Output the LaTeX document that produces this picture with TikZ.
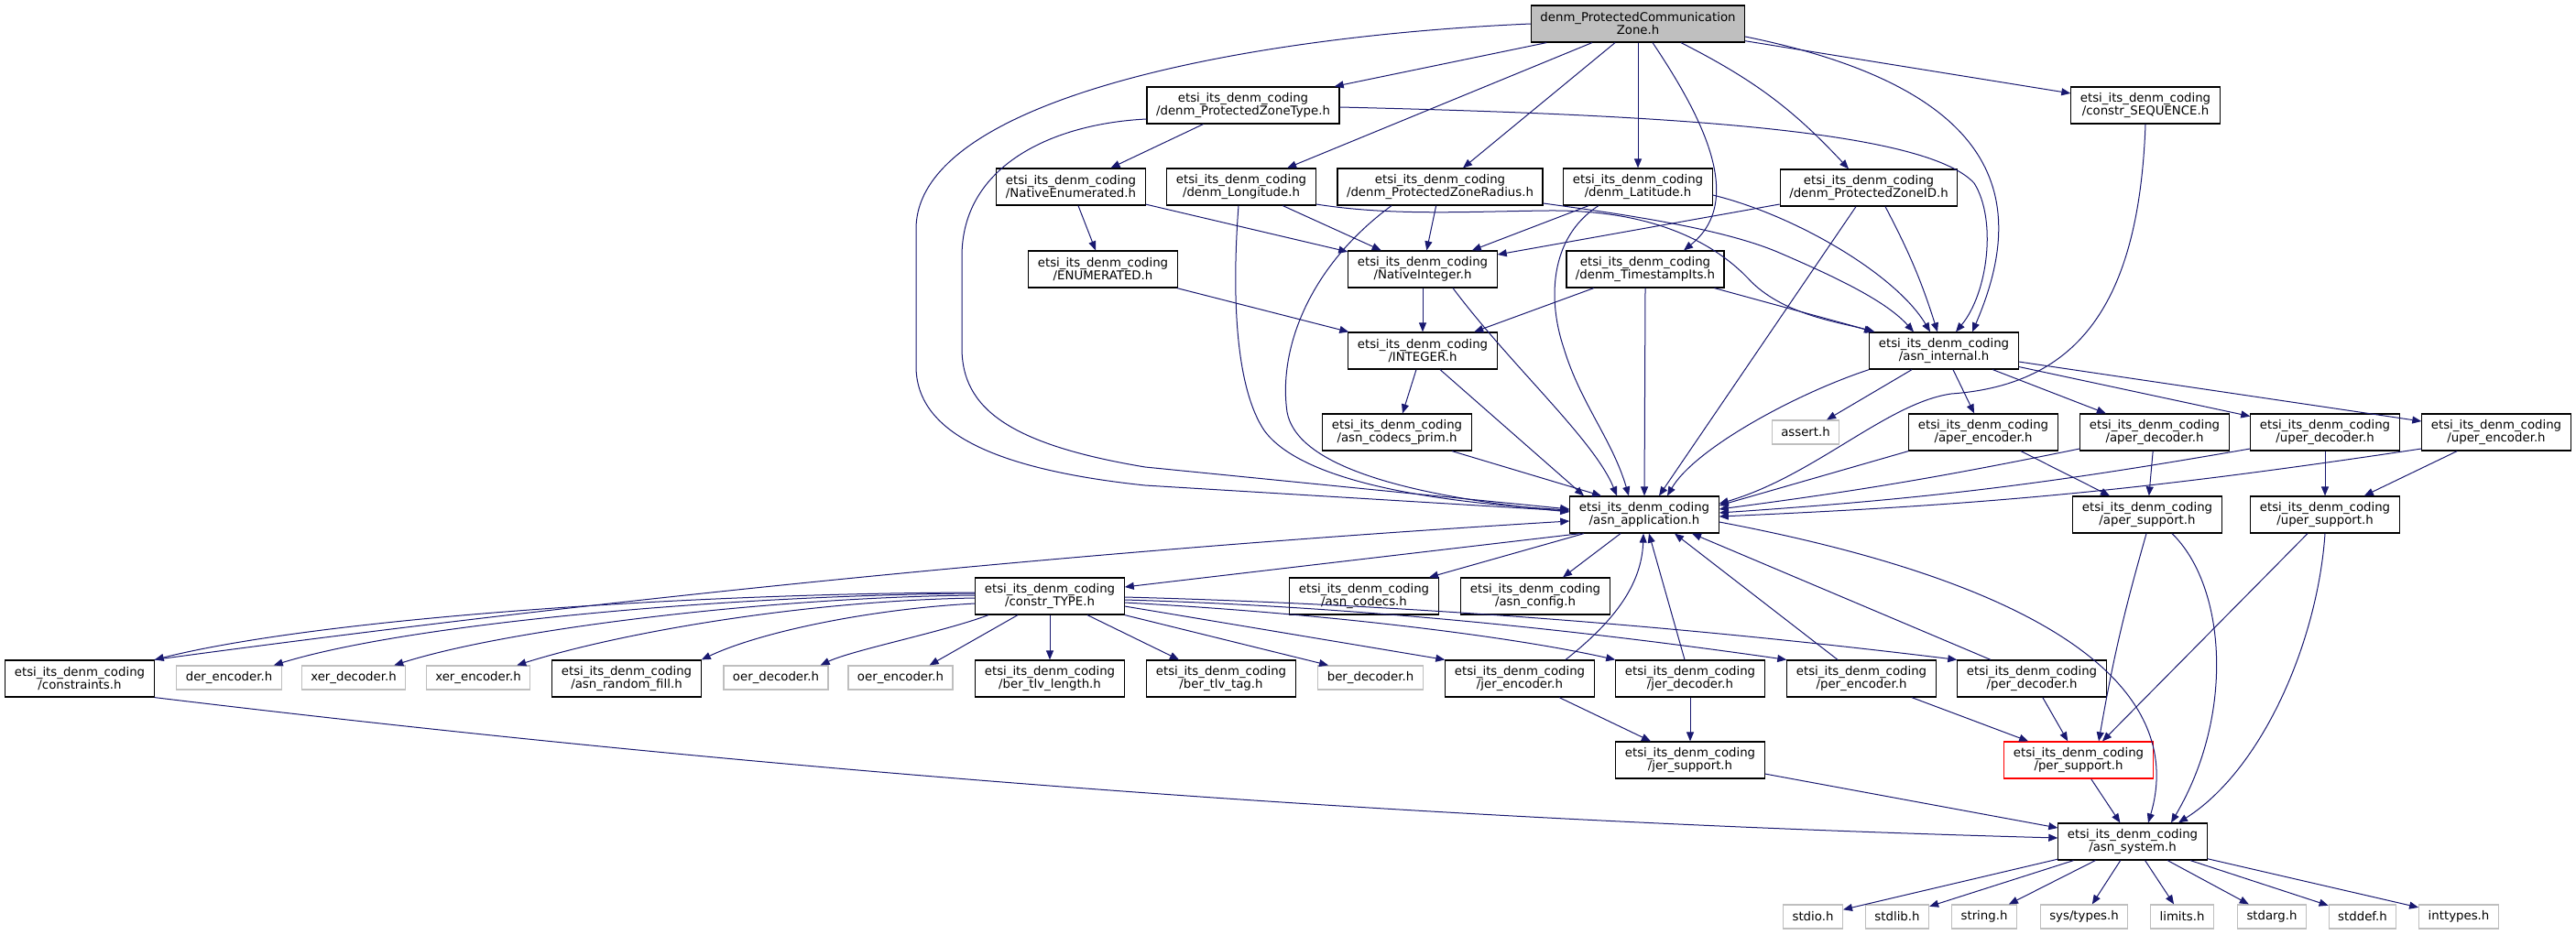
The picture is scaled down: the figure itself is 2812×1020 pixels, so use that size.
\documentclass[tikz,border=0pt]{standalone}
\usepackage{fontspec}
\setmainfont{DejaVu Sans}
\usetikzlibrary{arrows.meta}
\definecolor{edgeblue}{HTML}{191970}
\definecolor{sysgray}{HTML}{BFBFBF}
\newcommand{\pkgdir}{etsi\_its\_denm\_coding}
\tikzstyle{hd}=[draw=black,fill=white,line width=1.2pt,align=center,inner xsep=10pt,inner ysep=3pt,minimum height=40pt,font=\fontsize{13.3}{14}\selectfont]
\tikzstyle{sys}=[hd,draw=sysgray,minimum height=26pt]
\tikzstyle{rootnd}=[hd,fill=sysgray]
\tikzstyle{redhd}=[hd,draw=red]
\tikzstyle{ed}=[draw=edgeblue,line width=1pt,-{Triangle[length=10pt,width=8pt]}]

\begin{document}
\begin{tikzpicture}[x=1pt,y=-1pt]
	\useasboundingbox (0,0) rectangle (2812,1020);
	\node[rootnd] (pcz) at (1788,26) {denm\_ProtectedCommunication\\Zone.h};
	\node[hd] (pzt) at (1357,115) {\pkgdir\\/denm\_ProtectedZoneType.h};
	\node[hd] (cseq) at (2342,115) {\pkgdir\\/constr\_SEQUENCE.h};
	\node[hd] (natenum) at (1169,204) {\pkgdir\\/NativeEnumerated.h};
	\node[hd] (lon) at (1355,204) {\pkgdir\\/denm\_Longitude.h};
	\node[hd] (rad) at (1572,204) {\pkgdir\\/denm\_ProtectedZoneRadius.h};
	\node[hd] (lat) at (1788,204) {\pkgdir\\/denm\_Latitude.h};
	\node[hd] (pzid) at (2040,205) {\pkgdir\\/denm\_ProtectedZoneID.h};
	\node[hd] (enumd) at (1204,294) {\pkgdir\\/ENUMERATED.h};
	\node[hd] (natint) at (1553,294) {\pkgdir\\/NativeInteger.h};
	\node[hd] (tsits) at (1796,294) {\pkgdir\\/denm\_TimestampIts.h};
	\node[hd] (integer) at (1553,383) {\pkgdir\\/INTEGER.h};
	\node[hd] (asnint) at (2122,383) {\pkgdir\\/asn\_internal.h};
	\node[hd] (prim) at (1525,472) {\pkgdir\\/asn\_codecs\_prim.h};
	\node[sys] (assert) at (1971,472) {assert.h};
	\node[hd] (aperenc) at (2165,472) {\pkgdir\\/aper\_encoder.h};
	\node[hd] (aperdec) at (2352,472) {\pkgdir\\/aper\_decoder.h};
	\node[hd] (uperdec) at (2538,472) {\pkgdir\\/uper\_decoder.h};
	\node[hd] (uperenc) at (2725,472) {\pkgdir\\/uper\_encoder.h};
	\node[hd] (asnapp) at (1795,562) {\pkgdir\\/asn\_application.h};
	\node[hd] (apersup) at (2344,562) {\pkgdir\\/aper\_support.h};
	\node[hd] (upersup) at (2538,562) {\pkgdir\\/uper\_support.h};
	\node[hd] (ctype) at (1146,651) {\pkgdir\\/constr\_TYPE.h};
	\node[hd] (codecs) at (1489,651) {\pkgdir\\/asn\_codecs.h};
	\node[hd] (config) at (1676,651) {\pkgdir\\/asn\_config.h};
	\node[hd] (cons) at (87,741) {\pkgdir\\/constraints.h};
	\node[sys] (derenc) at (250,740) {der\_encoder.h};
	\node[sys] (xerdec) at (386,740) {xer\_decoder.h};
	\node[sys] (xerenc) at (522,740) {xer\_encoder.h};
	\node[hd] (rndfill) at (684,741) {\pkgdir\\/asn\_random\_fill.h};
	\node[sys] (oerdec) at (847,740) {oer\_decoder.h};
	\node[sys] (oerenc) at (983,740) {oer\_encoder.h};
	\node[hd] (tlvlen) at (1146,741) {\pkgdir\\/ber\_tlv\_length.h};
	\node[hd] (tlvtag) at (1333,741) {\pkgdir\\/ber\_tlv\_tag.h};
	\node[sys] (berdec) at (1496,740) {ber\_decoder.h};
	\node[hd] (jerenc) at (1659,741) {\pkgdir\\/jer\_encoder.h};
	\node[hd] (jerdec) at (1845,741) {\pkgdir\\/jer\_decoder.h};
	\node[hd] (perenc) at (2032,741) {\pkgdir\\/per\_encoder.h};
	\node[hd] (perdec) at (2218,741) {\pkgdir\\/per\_decoder.h};
	\node[hd] (jersup) at (1845,830) {\pkgdir\\/jer\_support.h};
	\node[redhd] (persup) at (2269,830) {\pkgdir\\/per\_support.h};
	\node[hd] (asnsys) at (2328,919) {\pkgdir\\/asn\_system.h};
	\node[sys] (stdio) at (1979,1001) {stdio.h};
	\node[sys] (stdlib) at (2071,1001) {stdlib.h};
	\node[sys] (string) at (2166,1001) {string.h};
	\node[sys] (systypes) at (2275,1001) {sys/types.h};
	\node[sys] (limits) at (2382,1001) {limits.h};
	\node[sys] (stdarg) at (2480,1001) {stdarg.h};
	\node[sys] (stddef) at (2579,1001) {stddef.h};
	\node[sys] (inttypes) at (2684,1001) {inttypes.h};

	\draw[ed] (pcz) -- (pzt);
	\draw[ed] (pcz) -- (cseq);
	\draw[ed] (pcz) -- (lon);
	\draw[ed] (pcz) -- (rad);
	\draw[ed] (pcz) -- (lat);
	\draw[ed] ([xshift=16]pcz.south) .. controls (1860,130) and (1905,220) .. ([xshift=42]tsits.north);
	\draw[ed] ([xshift=47]pcz.south) to[bend left=10] ([xshift=-22]pzid.north);
	\draw[ed] (pcz.west) .. controls (1350,40) and (1000,110) .. (1000,250) -- (1000,400) .. controls (1000,470) and (1080,512) .. (1250,530) -- ([yshift=4]asnapp.west);
	\draw[ed] ([yshift=-14]pcz.east) .. controls (2200,100) and (2210,230) .. ([xshift=31]asnint.north);
	\draw[ed] (pzt) -- (natenum);
	\draw[ed] ([yshift=-15]pzt.west) .. controls (1150,135) and (1050,180) .. (1050,280) -- (1050,380) .. controls (1050,445) and (1100,485) .. (1250,510) -- ([yshift=6]asnapp.west);
	\draw[ed] ([yshift=-2]pzt.east) .. controls (1800,125) and (2100,140) .. (2155,200) .. controls (2180,240) and (2170,320) .. ([xshift=13]asnint.north);
	\draw[ed] (cseq.south) .. controls (2335,330) and (2270,420) .. (2130,430) .. controls (2060,440) and (1980,520) .. ([yshift=12]asnapp.east);
	\draw[ed] (natenum) -- (enumd);
	\draw[ed] (natenum) -- (natint);
	\draw[ed] (lon) -- (natint);
	\draw[ed] ([xshift=-3]lon.south) .. controls (1344,330) and (1350,425) .. (1380,470) .. controls (1420,525) and (1560,548) .. ([yshift=5]asnapp.west);
	\draw[ed] ([yshift=-19]lon.east) .. controls (1520,236) and (1600,231) .. (1690,230) .. controls (1800,229) and (1870,262) .. (1912,308) .. controls (1950,345) and (2010,352) .. ([xshift=-77]asnint.north);
	\draw[ed] (rad) -- (natint);
	\draw[ed] ([xshift=-53]rad.south) .. controls (1430,290) and (1395,380) .. (1405,450) .. controls (1415,505) and (1520,540) .. ([yshift=3]asnapp.west);
	\draw[ed] ([yshift=-18]rad.east) .. controls (1780,235) and (1880,250) .. (1940,275) .. controls (2010,305) and (2060,330) .. ([xshift=-33]asnint.north);
	\draw[ed] (lat) -- (natint);
	\draw[ed] ([xshift=-43]lat.south) .. controls (1690,260) and (1690,330) .. (1707,380) .. controls (1725,440) and (1760,480) .. ([xshift=-17]asnapp.north);
	\draw[ed] ([yshift=-9]lat.east) .. controls (1960,235) and (2070,300) .. ([xshift=-15]asnint.north);
	\draw[ed] ([yshift=-18]pzid.west) -- ([yshift=16]natint.east);
	\draw[ed] ([xshift=-14]pzid.south) -- ([xshift=16]asnapp.north);
	\draw[ed] ([xshift=18]pzid.south) to[bend left=5] ([xshift=-7]asnint.north);
	\draw[ed] (natint) -- (integer);
	\draw[ed] ([xshift=33]natint.south) .. controls (1650,400) and (1740,480) .. ([xshift=-30]asnapp.north);
	\draw[ed] (tsits) -- (integer);
	\draw[ed] (tsits.south) -- (asnapp.north);
	\draw[ed] (tsits) -- (asnint);
	\draw[ed] (enumd) -- (integer);
	\draw[ed] ([xshift=-7]integer.south) -- ([xshift=6]prim.north);
	\draw[ed] ([xshift=19]integer.south) -- ([xshift=-66]asnapp.north);
	\draw[ed] ([xshift=60]prim.south) -- ([xshift=-47]asnapp.north);
	\draw[ed] (asnint) -- (assert);
	\draw[ed] (asnint) -- (aperenc);
	\draw[ed] (asnint) -- (aperdec);
	\draw[ed] (asnint) -- (uperdec);
	\draw[ed] (asnint) -- (uperenc);
	\draw[ed] (asnint.south west) .. controls (1960,430) and (1850,490) .. ([xshift=25]asnapp.north);
	\draw[ed] (aperenc.south west) -- ([yshift=10]asnapp.east);
	\draw[ed] ([yshift=-18]aperdec.west) to[bend left=2] ([yshift=6]asnapp.east);
	\draw[ed] ([yshift=-18]uperdec.west) to[bend left=3] ([yshift=2]asnapp.east);
	\draw[ed] ([yshift=-18]uperenc.west) to[bend left=3] ([yshift=-2]asnapp.east);
	\draw[ed] (aperenc) -- (apersup);
	\draw[ed] (aperdec) -- (apersup);
	\draw[ed] (uperdec) -- (upersup);
	\draw[ed] (uperenc) -- (upersup);
	\draw[ed] ([xshift=-1]apersup.south) to[bend right=3] ([xshift=22]persup.north);
	\draw[ed] ([xshift=27]apersup.south) .. controls (2430,640) and (2440,780) .. ([xshift=42]asnsys.north);
	\draw[ed] ([xshift=-19]upersup.south) -- ([xshift=26]persup.north);
	\draw[ed] (upersup.south) .. controls (2530,700) and (2470,840) .. ([xshift=50]asnsys.north);
	\draw[ed] ([xshift=12]asnapp.south west) -- ([yshift=10]ctype.east);
	\draw[ed] ([xshift=-66]asnapp.south) -- ([xshift=71]codecs.north);
	\draw[ed] ([xshift=-26]asnapp.south) -- ([xshift=30]config.north);
	\draw[ed] ([yshift=-8]asnapp.east) .. controls (2300,650) and (2380,780) .. ([xshift=17]asnsys.north);
	\draw[ed] (cons.north east) .. controls (680,651) and (1200,600) .. ([yshift=-7]asnapp.west);
	\draw[ed] ([yshift=4]ctype.west) .. controls (750,648) and (350,675) .. (cons.north east);
	\draw[ed] ([yshift=3]ctype.west) .. controls (800,650) and (450,680) .. ([xshift=-9]derenc.north east);
	\draw[ed] ([yshift=1]ctype.west) .. controls (850,652) and (560,685) .. ([xshift=-13]xerdec.north east);
	\draw[ed] ([yshift=-2]ctype.west) .. controls (880,656) and (680,690) .. ([xshift=-15]xerenc.north east);
	\draw[ed] ([yshift=-8]ctype.west) .. controls (950,665) and (830,690) .. (rndfill.north east);
	\draw[ed] ([xshift=-67]ctype.south) .. controls (1030,690) and (930,710) .. ([xshift=-9]oerdec.north east);
	\draw[ed] ([xshift=-35]ctype.south) -- ([xshift=-26]oerenc.north east);
	\draw[ed] (ctype) -- (tlvlen);
	\draw[ed] ([xshift=41]ctype.south) -- ([xshift=-46]tlvtag.north);
	\draw[ed] (ctype.south east) -- ([xshift=-46]berdec.north);
	\draw[ed] ([yshift=-11]ctype.east) -- (jerenc.north west);
	\draw[ed] ([yshift=-7]ctype.east) .. controls (1450,670) and (1650,695) .. (jerdec.north west);
	\draw[ed] ([yshift=-4]ctype.east) .. controls (1470,662) and (1710,686) .. (perenc.north west);
	\draw[ed] ([yshift=-1]ctype.east) .. controls (1530,660) and (1830,683) .. (perdec.north west);
	\draw[ed] ([xshift=50]jerenc.north) .. controls (1760,680) and (1792,640) .. ([xshift=-1]asnapp.south);
	\draw[ed] ([xshift=-6]jerdec.north) -- ([xshift=5]asnapp.south);
	\draw[ed] ([xshift=-26]perenc.north) -- ([xshift=33]asnapp.south);
	\draw[ed] ([xshift=-45]perdec.north) -- ([xshift=52]asnapp.south);
	\draw[ed] (jerenc) -- (jersup);
	\draw[ed] (jerdec) -- (jersup);
	\draw[ed] (perenc) -- (persup);
	\draw[ed] (perdec) -- (persup);
	\draw[ed] (jersup) -- (asnsys);
	\draw[ed] (persup) -- (asnsys);
	\draw[ed] (cons.south east) .. controls (860,845) and (1550,896) .. ([yshift=4]asnsys.west);
	\draw[ed] (asnsys) -- (stdio);
	\draw[ed] (asnsys) -- (stdlib);
	\draw[ed] (asnsys) -- (string);
	\draw[ed] (asnsys) -- (systypes);
	\draw[ed] (asnsys) -- (limits);
	\draw[ed] (asnsys) -- (stdarg);
	\draw[ed] (asnsys) -- (stddef);
	\draw[ed] (asnsys) -- (inttypes);
\end{tikzpicture}
\end{document}
